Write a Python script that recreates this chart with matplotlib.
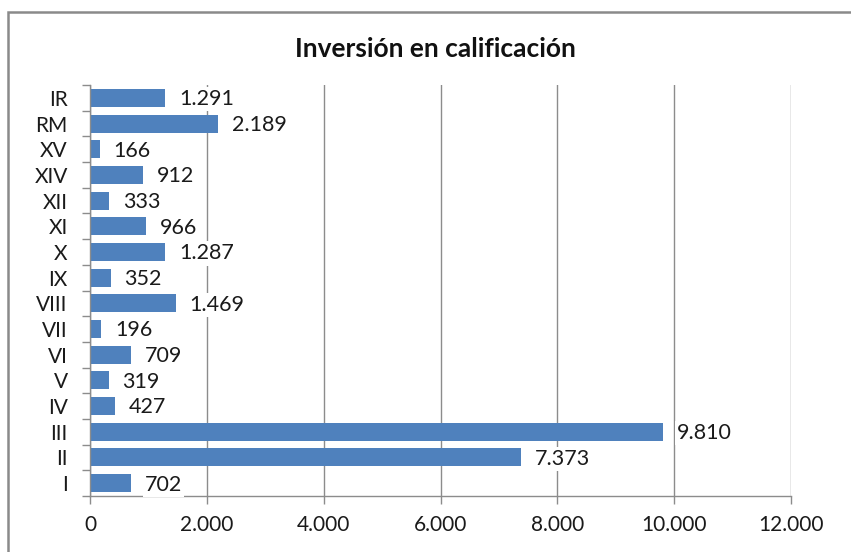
import matplotlib
matplotlib.use("Agg")
import matplotlib.pyplot as plt
from matplotlib.patches import Rectangle
from matplotlib.ticker import FuncFormatter

categories = ["I", "II", "III", "IV", "V", "VI", "VII", "VIII", "IX", "X",
              "XI", "XII", "XIV", "XV", "RM", "IR"]
values = [702, 7373, 9810, 427, 319, 709, 196, 1469, 352, 1287,
          966, 333, 912, 166, 2189, 1291]
x_ticks = [0, 2000, 4000, 6000, 8000, 10000, 12000]

plt.rcParams['font.family'] = ['Lato', 'DejaVu Sans']

fig = plt.figure(figsize=(8.51, 5.52), dpi=100)
ax = fig.add_axes([90/851, 1-496/552, (791-90)/851, (496-85)/552])

grey = "#8c8c8c"
pos = list(range(len(categories)))
ax.barh(pos, values, height=0.7, color="#4F81BD", zorder=2)

def fmt(v):
    return f"{int(v):,}".replace(",", ".")

for p, v in zip(pos, values):
    ax.annotate(fmt(v), (v, p), xytext=(10, -1), textcoords="offset points",
                va="center", ha="left", fontsize=15.5, color="#1a1a1a", zorder=3,
                bbox=dict(boxstyle="square,pad=0.1", fc="white", ec="none"))

ax.set_xlim(0, 12000)
ax.set_ylim(-0.5, len(categories) - 0.5)
ax.set_xticks(x_ticks)
ax.xaxis.set_major_formatter(FuncFormatter(lambda v, _: fmt(v)))
ax.set_yticks(pos)
ax.set_yticklabels(categories)
ax.set_yticks([i - 0.5 for i in range(len(categories) + 1)], minor=True)
ax.tick_params(axis="y", which="major", length=0, pad=16, labelsize=15, labelcolor="#1a1a1a")
ax.tick_params(axis="y", which="minor", length=6, color=grey, width=1)
ax.tick_params(axis="x", length=6, color=grey, width=1, pad=8, labelsize=15, labelcolor="#1a1a1a")

ax.grid(axis="x", color=grey, linewidth=1, zorder=0)
ax.set_axisbelow(True)
for s in ["top", "right"]:
    ax.spines[s].set_visible(False)
for s in ["left", "bottom"]:
    ax.spines[s].set_color(grey)
    ax.spines[s].set_linewidth(1)

fig.text(435/851, 1-49/552, "Inversión en calificación", ha="center", va="center",
         fontsize=19, fontweight="bold", color="#111111")

fig.patches.append(Rectangle((8/851, -0.1), 1.2, 1 - 12/552 + 0.1, transform=fig.transFigure,
                             fill=False, ec="#8a8a8a", lw=1.8, clip_on=False))

fig.savefig("out.png", dpi=100)
